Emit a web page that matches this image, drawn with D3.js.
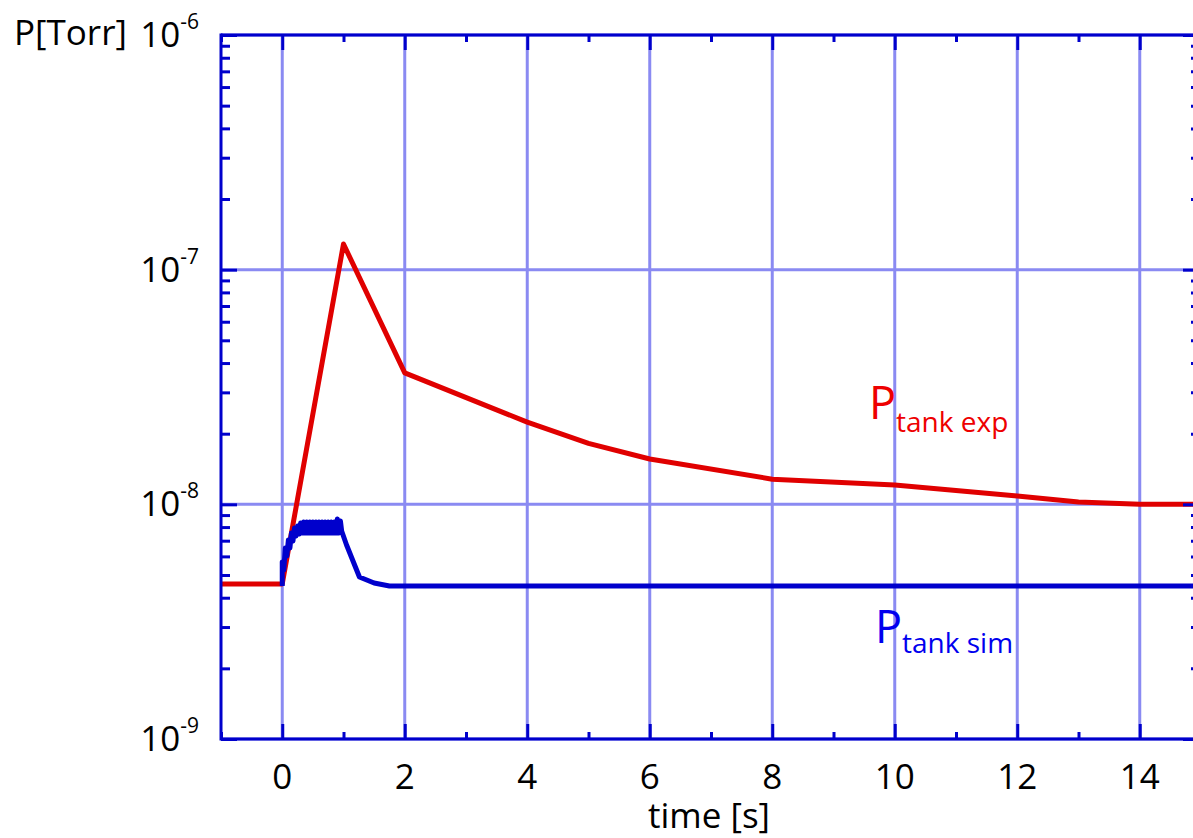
<!DOCTYPE html>
<html>
<head>
<meta charset="utf-8">
<script src="https://cdn.jsdelivr.net/npm/d3@7"></script>
<style>
  html, body { margin: 0; padding: 0; background: #fff; }
  svg { display: block; font-family: "Open Sans", "Liberation Sans", sans-serif; }
</style>
</head>
<body>
<svg id="chart" width="1193" height="838"></svg>
<script>
// ---- data ----
const expTime  = [-1, 0, 1, 2, 4, 5, 6, 8, 10, 12, 13, 14, 15];
const expP     = [4.58e-9, 4.58e-9, 1.286e-7, 3.63e-8, 2.24e-8, 1.82e-8, 1.56e-8, 1.28e-8, 1.21e-8, 1.085e-8, 1.023e-8, 1.0e-8, 1.0e-8];

const simTime  = [0, 0, 0.025, 0.05, 0.075, 0.1, 0.125, 0.15, 0.175, 0.2, 0.225, 0.25, 0.275, 0.3, 0.325,
                  0.35, 0.375, 0.4, 0.425, 0.45, 0.475, 0.5, 0.525, 0.55, 0.575, 0.6, 0.625, 0.65, 0.675,
                  0.7, 0.725, 0.75, 0.775, 0.8, 0.825, 0.85, 0.875, 0.9, 0.925, 0.95, 0.97,
                  1.05, 1.26, 1.5, 1.75, 15];
const simP     = [4.49e-9, 5.68e-9, 5.25e-9, 6.51e-9, 6.02e-9, 7.05e-9, 6.51e-9, 7.55e-9, 6.98e-9, 7.93e-9, 7.33e-9, 8.08e-9, 7.47e-9, 8.32e-9, 7.55e-9,
                  8.41e-9, 7.55e-9, 8.41e-9, 7.55e-9, 8.41e-9, 7.55e-9, 8.41e-9, 7.55e-9, 8.41e-9, 7.55e-9, 8.41e-9, 7.55e-9, 8.41e-9, 7.55e-9,
                  8.41e-9, 7.55e-9, 8.41e-9, 7.55e-9, 8.41e-9, 7.55e-9, 8.41e-9, 7.55e-9, 8.66e-9, 7.55e-9, 8.49e-9, 7.70e-9,
                  6.71e-9, 4.90e-9, 4.62e-9, 4.49e-9, 4.49e-9];

const xMajorTicks = [0, 2, 4, 6, 8, 10, 12, 14];
const xMinorTicks = [-1, 1, 3, 5, 7, 9, 11, 13, 15];
const xTickLabels = ["0", "2", "4", "6", "8", "10", "12", "14"];
const yMajorTicks = [1e-9, 1e-8, 1e-7, 1e-6];
const yTickExponents = ["-9", "-8", "-7", "-6"];
const yMinorTicks = [];
[1e-9, 1e-8, 1e-7].forEach(d => { for (let k = 2; k <= 9; k++) yMinorTicks.push(d * k); });

// ---- layout ----
const svg = d3.select("#chart");
const x = d3.scaleLinear().domain([-1, 15]).range([221, 1201]);
const y = d3.scaleLog().domain([1e-9, 1e-6]).range([739, 35]);

const axisColor = "#0000cc";
const gridColor = "#8a8af2";

// grid
const grid = svg.append("g");
grid.selectAll("line.gx").data(xMajorTicks).join("line")
  .attr("x1", d => x(d)).attr("x2", d => x(d))
  .attr("y1", y(1e-6)).attr("y2", y(1e-9))
  .attr("stroke", gridColor).attr("stroke-width", 3);
grid.selectAll("line.gy").data(yMajorTicks).join("line")
  .attr("x1", x(-1)).attr("x2", x(15))
  .attr("y1", d => y(d)).attr("y2", d => y(d))
  .attr("stroke", gridColor).attr("stroke-width", 3);

// series
const line = d3.line().x(d => x(d[0])).y(d => y(d[1]));
svg.append("path")
  .datum(expTime.map((t, i) => [t, expP[i]]))
  .attr("d", line).attr("fill", "none")
  .attr("stroke", "#e00000").attr("stroke-width", 5).attr("stroke-linejoin", "round");
svg.append("path")
  .datum(simTime.map((t, i) => [t, simP[i]]))
  .attr("d", line).attr("fill", "none")
  .attr("stroke", "#0000cc").attr("stroke-width", 5).attr("stroke-linejoin", "round");

// axes
function styleAxis(g) {
  g.select(".domain").remove();
  g.selectAll("text").remove();
  g.selectAll("line").attr("stroke", axisColor).attr("stroke-width", 3);
}
svg.append("g").attr("transform", `translate(0,${y(1e-9)})`)
  .call(d3.axisTop(x).tickValues(xMajorTicks).tickSize(15)).call(styleAxis);
svg.append("g").attr("transform", `translate(0,${y(1e-9)})`)
  .call(d3.axisTop(x).tickValues(xMinorTicks).tickSize(7)).call(styleAxis);
svg.append("g").attr("transform", `translate(0,${y(1e-6)})`)
  .call(d3.axisBottom(x).tickValues(xMajorTicks).tickSize(15)).call(styleAxis);
svg.append("g").attr("transform", `translate(0,${y(1e-6)})`)
  .call(d3.axisBottom(x).tickValues(xMinorTicks).tickSize(7)).call(styleAxis);
svg.append("g").attr("transform", `translate(${x(-1)},0)`)
  .call(d3.axisRight(y).tickValues(yMajorTicks).tickSize(16)).call(styleAxis);
svg.append("g").attr("transform", `translate(${x(-1)},0)`)
  .call(d3.axisRight(y).tickValues(yMinorTicks).tickSize(9)).call(styleAxis);
svg.append("g").attr("transform", `translate(${x(15)},0)`)
  .call(d3.axisLeft(y).tickValues(yMajorTicks).tickSize(18)).call(styleAxis);
svg.append("g").attr("transform", `translate(${x(15)},0)`)
  .call(d3.axisLeft(y).tickValues(yMinorTicks).tickSize(10)).call(styleAxis);

// frame lines
const frame = svg.append("g").attr("stroke", axisColor).attr("stroke-width", 3);
frame.append("line").attr("x1", x(-1)).attr("x2", x(15)).attr("y1", y(1e-9)).attr("y2", y(1e-9));
frame.append("line").attr("x1", x(-1)).attr("x2", x(15)).attr("y1", y(1e-6)).attr("y2", y(1e-6));
frame.append("line").attr("x1", x(-1)).attr("x2", x(-1)).attr("y1", y(1e-6) - 1.5).attr("y2", y(1e-9) + 1.5);
frame.append("line").attr("x1", x(15)).attr("x2", x(15)).attr("y1", y(1e-6) - 1.5).attr("y2", y(1e-9) + 1.5);

// tick labels
const fs = 35;
svg.append("g").selectAll("text").data(xMajorTicks).join("text")
  .attr("x", d => x(d)).attr("y", 789)
  .attr("text-anchor", "middle").attr("font-size", fs).attr("fill", "#000")
  .text((d, i) => xTickLabels[i]);

const yl = svg.append("g").selectAll("text").data(yMajorTicks).join("text")
  .attr("x", 199).attr("y", d => y(d) + 12)
  .attr("text-anchor", "end").attr("font-size", fs).attr("fill", "#000");
yl.append("tspan").text("10");
yl.append("tspan").attr("dy", -18).attr("font-size", 21).text((d, i) => yTickExponents[i]);

// axis titles
svg.append("text").attr("x", 14).attr("y", 45).attr("font-size", fs).attr("fill", "#000").text("P[Torr]");
svg.append("text").attr("x", 709).attr("y", 828).attr("text-anchor", "middle").attr("font-size", fs).attr("fill", "#000").text("time [s]");

// series labels
const lblExp = svg.append("text").attr("x", 869).attr("y", 419).attr("fill", "#ee0000");
lblExp.append("tspan").attr("font-size", 45).text("P");
lblExp.append("tspan").attr("font-size", 28).attr("dy", 13).text("tank exp");
const lblSim = svg.append("text").attr("x", 875).attr("y", 643).attr("fill", "#0000ee");
lblSim.append("tspan").attr("font-size", 45).text("P");
lblSim.append("tspan").attr("font-size", 28).attr("dy", 10).text("tank sim");
</script>
</body>
</html>
